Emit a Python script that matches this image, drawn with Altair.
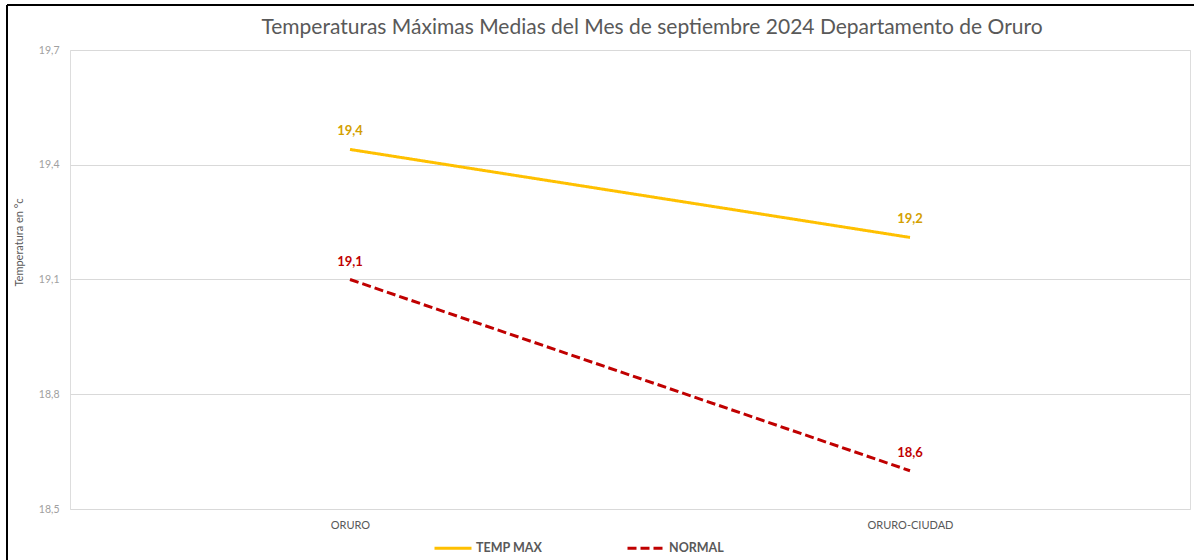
import altair as alt
import pandas as pd

categories = ["ORURO", "ORURO-CIUDAD"]
temp_max = [19.44, 19.21]
normal = [19.10, 18.60]
series_names = ["TEMP MAX", "NORMAL"]
line_colors = ["#FFC000", "#C00000"]
label_colors = ["#D4A000", "#C00000"]
title_text = "Temperaturas Máximas Medias del Mes de septiembre 2024 Departamento de Oruro"

rows = []
for s, vals, lc in zip(series_names, [temp_max, normal], label_colors):
    for c, v in zip(categories, vals):
        rows.append({"estacion": c, "serie": s, "valor": v, "lblcolor": lc})
df = pd.DataFrame(rows)

FONT = "Lato"
GREY = "#595959"

x_enc = alt.X("estacion:N", sort=categories, title=None,
              scale=alt.Scale(paddingInner=0, paddingOuter=0),
              axis=alt.Axis(labelAngle=0, labelColor=GREY, labelFontSize=11, labelFont=FONT,
                            ticks=False, domain=False, grid=False, labelPadding=10))
y_enc = alt.Y("valor:Q", title="Temperatura en °c",
              scale=alt.Scale(domain=[18.5, 19.7], zero=False, nice=False),
              axis=alt.Axis(values=[18.5, 18.8, 19.1, 19.4, 19.7],
                            labelExpr="replace(format(datum.value, '.1f'), '.', ',')",
                            labelColor="#a0a0a0", labelFontSize=10.5, labelFont=FONT,
                            ticks=False, domain=False, grid=True, gridColor="#d9d9d9",
                            gridWidth=1, labelPadding=11,
                            titleColor=GREY, titleFontSize=11, titleFont=FONT,
                            titleFontWeight="normal", titleX=-46, titleY=192))

color_scale = alt.Scale(domain=series_names, range=line_colors)
dash_scale = alt.Scale(domain=series_names, range=[[1, 0], [9, 4]])


def make_legend():
    return alt.Legend(title=None, orient="none", direction="horizontal",
                      legendX=363, legendY=478, symbolType="stroke",
                      symbolSize=1369, symbolStrokeWidth=3,
                      labelFont=FONT, labelFontSize=12.5, labelFontWeight="bold",
                      labelColor=GREY, columnPadding=78, labelOffset=3)


lines = alt.Chart(df).mark_line(strokeWidth=3).encode(
    x=x_enc, y=y_enc,
    color=alt.Color("serie:N", scale=color_scale, sort=series_names, legend=make_legend()),
    strokeDash=alt.StrokeDash("serie:N", scale=dash_scale, sort=series_names, legend=make_legend()),
)

labels = alt.Chart(df).mark_text(dy=-18, fontWeight="bold", fontSize=13, font=FONT).encode(
    x=alt.X("estacion:N", sort=categories),
    y=alt.Y("valor:Q"),
    text=alt.Text("lbl:N"),
    color=alt.Color("lblcolor:N", scale=None, legend=None),
).transform_calculate(lbl="replace(format(datum.valor, '.1f'), '.', ',')")

title_df = pd.DataFrame({"t": [title_text]})
title_mark = alt.Chart(title_df).mark_text(font=FONT, fontSize=21, color=GREY,
                                           baseline="middle", align="center").encode(
    x=alt.value(582), y=alt.value(-22), text="t:N")

border_left = alt.Chart().mark_rule(color="black", strokeWidth=2).encode(
    x=alt.value(-63), y=alt.value(-45), y2=alt.value(520))
border_top = alt.Chart().mark_rule(color="black", strokeWidth=2).encode(
    x=alt.value(-63), x2=alt.value(1130), y=alt.value(-45))

chart = alt.layer(lines, labels, title_mark, border_left, border_top).properties(
    width=1120, height=459,
    autosize=alt.AutoSizeParams(type="none"),
    padding={"left": 70, "top": 50, "right": 4, "bottom": 51},
).configure_view(stroke=None).configure(background="white")

chart.save("out.html", embed_options={"renderer": "svg", "actions": False})
